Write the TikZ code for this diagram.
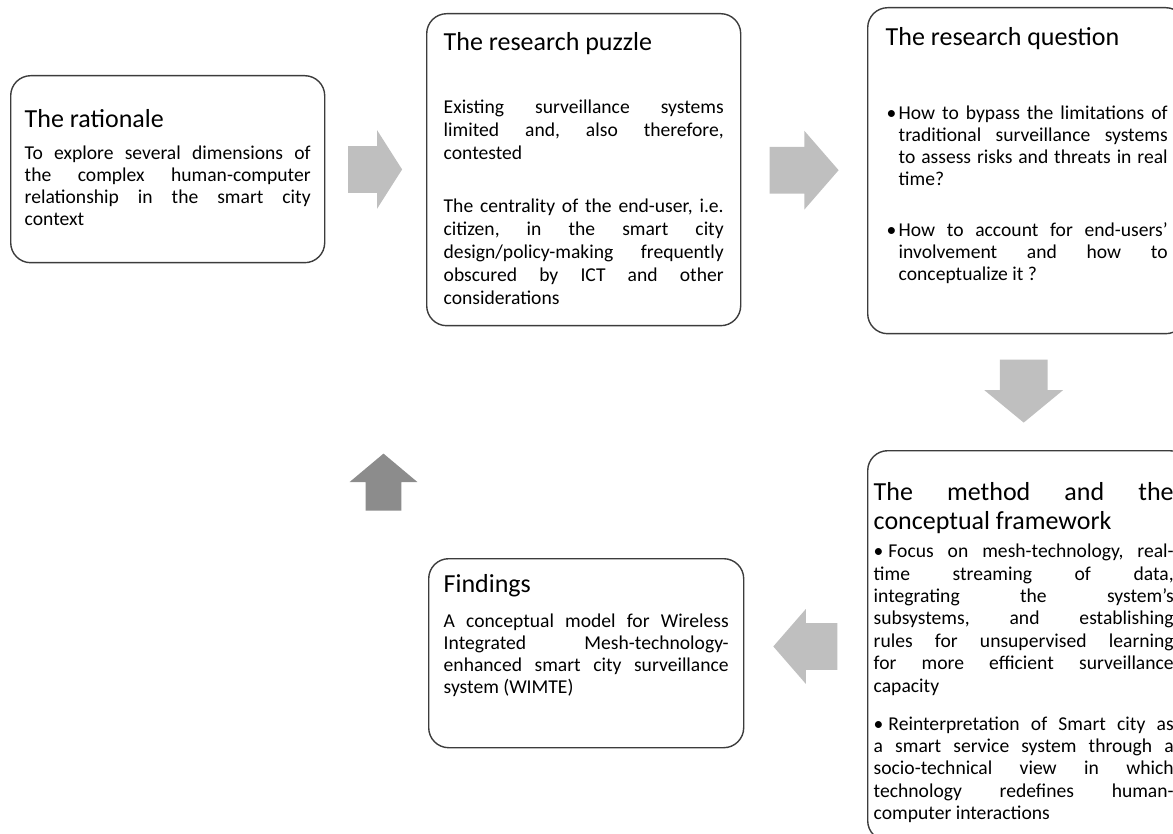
\documentclass[tikz,border=0pt]{standalone}
\usepackage{fontspec}
\setmainfont{Carlito}
\usetikzlibrary{shapes.arrows,calc}

\definecolor{arrowgray}{RGB}{191,191,191}
\definecolor{backgray}{RGB}{140,140,140}
\definecolor{framegray}{RGB}{60,60,60}
\newcommand{\stagetitle}[1]{{\fontsize{13}{14.5}\selectfont #1\par}}
\newcommand{\qitem}{\par\hangindent=6.5pt\hangafter=1\noindent\makebox[6.5pt][l]{\hspace{0.5pt}\textbullet}}
\tolerance=10000
\hbadness=10000

\begin{document}
\begin{tikzpicture}[x=0.5pt,y=-0.5pt,
    stage/.style={draw=framegray,line width=0.7pt,rounded corners=10pt,anchor=north west,
        align=justify,inner ysep=0pt,font=\fontsize{9.8}{11}\selectfont\frenchspacing},
    blockarrow/.style={single arrow,draw=none,fill=arrowgray,inner xsep=0pt,anchor=tail,
        single arrow head indent=0pt}]
    \useasboundingbox (0,0) rectangle (1173,834);

    % the five stages
    \node[stage,text width=143pt,inner xsep=7pt,text height=26pt,text depth=67.5pt] (rationale) at (10,75)
        {\stagetitle{The rationale}\vspace{5pt}
        To explore several dimensions of\linebreak the complex human-computer\linebreak
        relationship in the smart city\linebreak context\par};
    \node[stage,text width=140pt,inner xsep=8.5pt,text height=18.5pt,text depth=137.5pt,
        font=\fontsize{9.8}{11.5}\selectfont\frenchspacing] (puzzle) at (426,13)
        {\stagetitle{The research puzzle}\vspace{20pt}
        Existing surveillance systems\linebreak limited and, also therefore,\linebreak contested\par
        \vspace{15pt}
        The centrality of the end-user, i.e.\linebreak citizen, in the smart city\linebreak
        design/policy-making frequently\linebreak obscured by ICT and other\linebreak considerations\par};
    \node[stage,text width=141pt,inner xsep=9pt,text height=19pt,text depth=144pt] (question) at (867,7)
        {\stagetitle{The research question}\vspace{26pt}
        \qitem How to bypass the limitations of\linebreak traditional surveillance systems\linebreak
        to assess risks and threats in real\linebreak time?\par
        \vspace{14.5pt}
        \qitem How to account for end-users'\linebreak involvement and how to\linebreak conceptualize it ?\par};
    \node[stage,text width=145pt,inner xsep=8pt,text height=25pt,text depth=170pt,
        font=\fontsize{9.8}{11.2}\selectfont\frenchspacing] (method) at (867,450)
        {\leftskip=-5pt
        \stagetitle{The method and the\linebreak conceptual framework}\vspace{2.8pt}
        \noindent\textbullet\hspace{2.5pt}Focus on mesh-technology, real-\linebreak time streaming of data,\linebreak
        integrating the system's\linebreak subsystems, and establishing\linebreak
        rules for unsupervised learning\linebreak for more efficient surveillance\linebreak capacity\par
        \vspace{7.8pt}
        \noindent\textbullet\hspace{2.5pt}Reinterpretation of Smart city as\linebreak a smart service system through a\linebreak
        socio-technical view in which\linebreak technology redefines human-\linebreak computer interactions\par};
    \node[stage,text width=142.5pt,inner xsep=7.5pt,text height=17pt,text depth=77.5pt] (findings) at (428,558)
        {\stagetitle{Findings}\vspace{6.5pt}
        A conceptual model for Wireless\linebreak Integrated Mesh-technology-\linebreak
        enhanced smart city surveillance\linebreak system (WIMTE)\par};

    % block arrows between the stages
    \node[blockarrow,minimum height=27pt,inner ysep=11.5pt,single arrow head extend=8pt,
        single arrow tip angle=115] (ab) at ($(rationale.east)!0.5!(puzzle.west)+(-28,0)$) {};
    \node[blockarrow,minimum height=34.5pt,inner ysep=11.5pt,single arrow head extend=8pt,
        single arrow tip angle=98] (bc) at ($(puzzle.east)!0.5!(question.west)+(-35,0)$) {};
    \node[blockarrow,rotate=-90,minimum height=31.5pt,inner ysep=11.75pt,single arrow head extend=7.75pt,
        single arrow tip angle=101] (cd) at ($(question.south)!0.5!(method.north)+(-4,-33)$) {};
    \node[blockarrow,rotate=180,minimum height=32pt,inner ysep=11.5pt,single arrow head extend=7pt,
        single arrow tip angle=98] (df) at ($(method.west)!0.5!(findings.east)+(32,-3)$) {};
    \node[blockarrow,fill=backgray,rotate=90,minimum height=28.5pt,inner ysep=8.75pt,single arrow head extend=8pt,
        single arrow tip angle=100] (fb) at ($(findings.north west)+(-44.5,-47)$) {};
\end{tikzpicture}
\end{document}
